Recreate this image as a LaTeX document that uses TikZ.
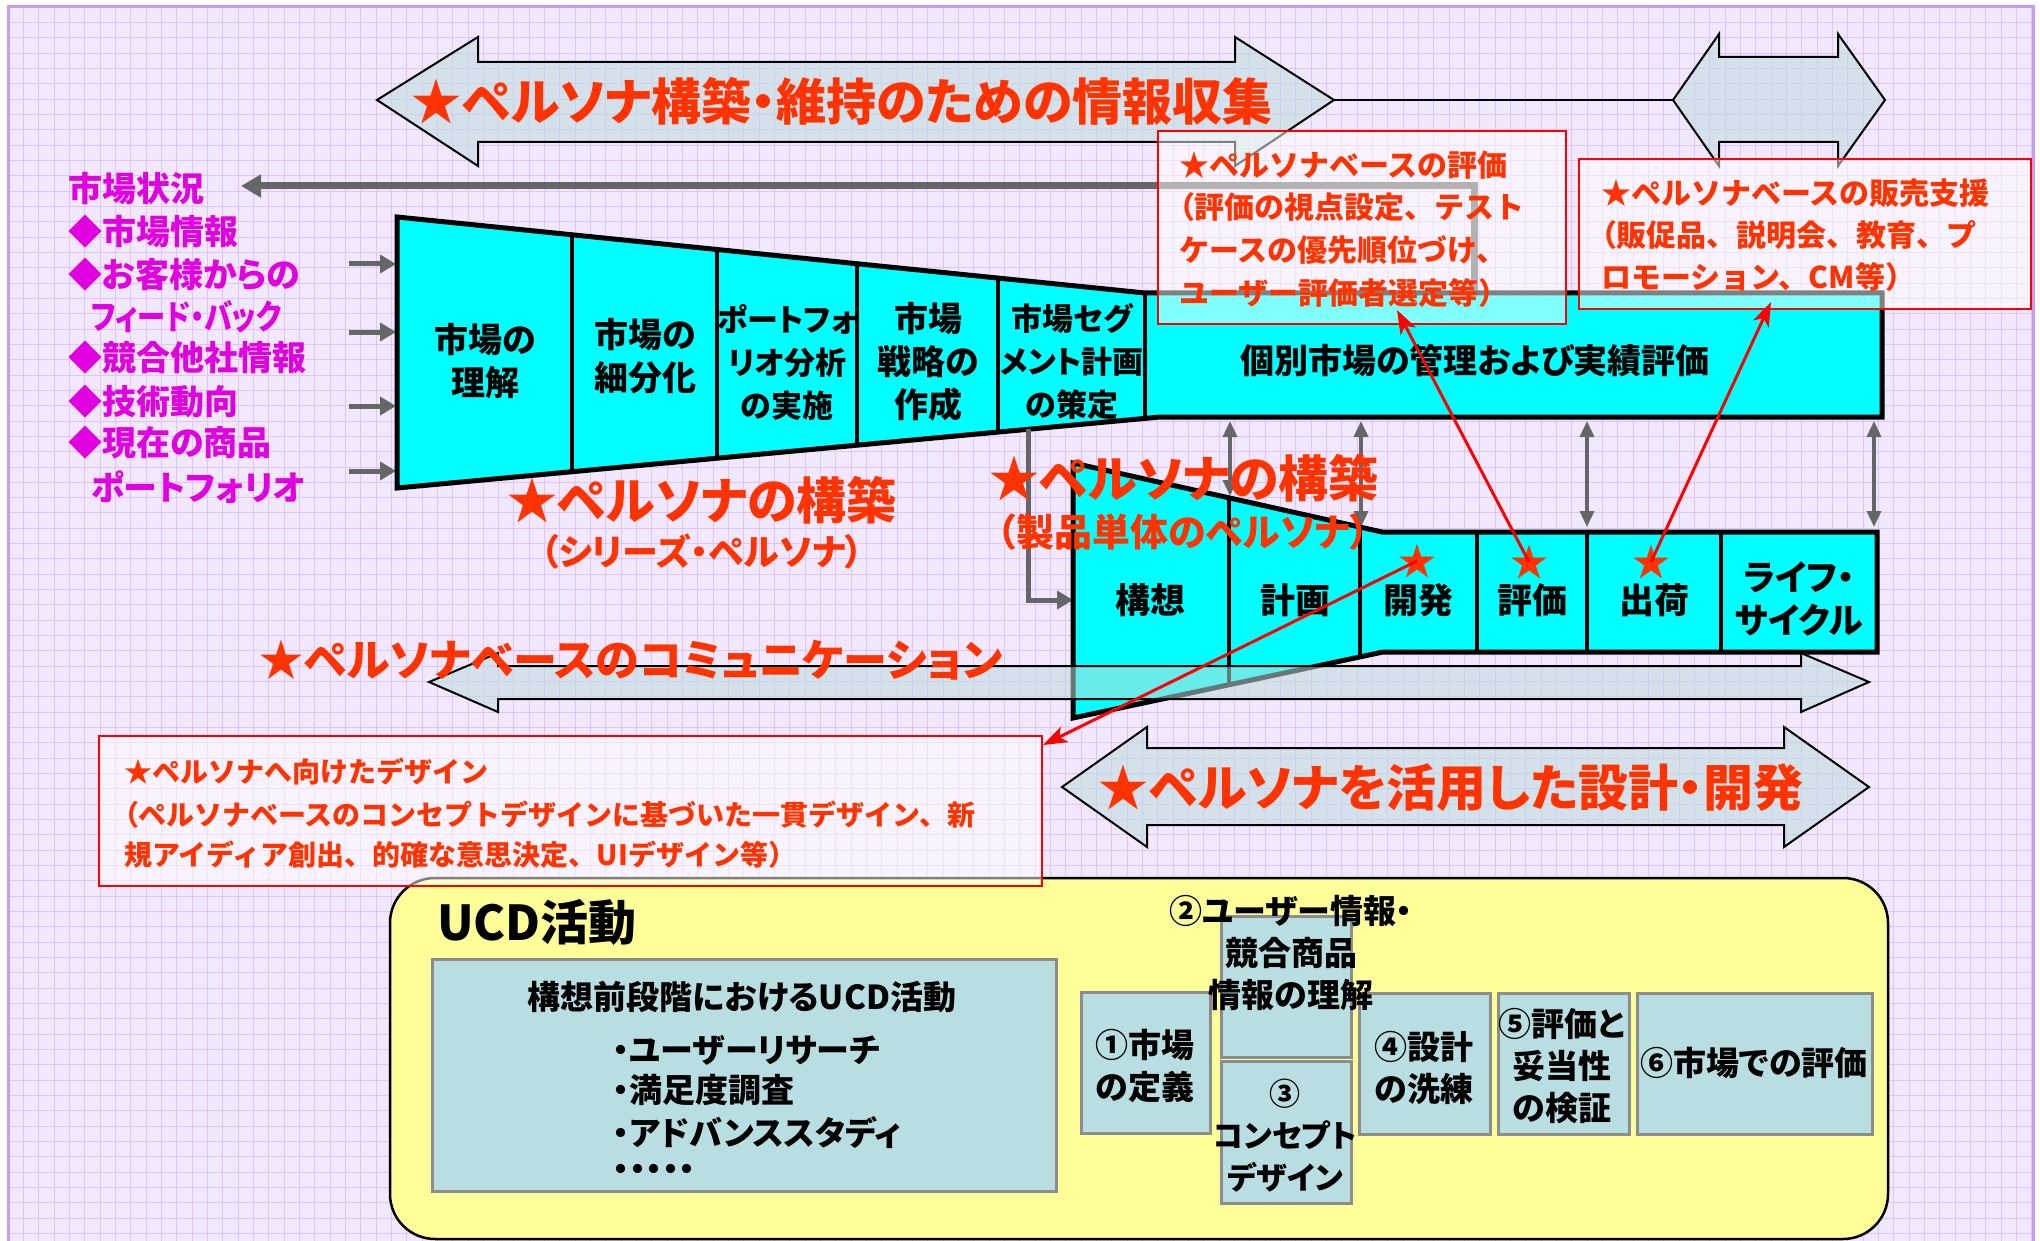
\documentclass[tikz,border=0pt]{standalone}
\usepackage{fontspec}
\usepackage{graphicx}
\setmainfont{Noto Sans CJK JP}
\newfontfamily\pjp{Noto Sans CJK JP}[RawFeature=+palt]
\usetikzlibrary{arrows.meta}
\definecolor{bg}{HTML}{F2E8FD}
\definecolor{gridc}{HTML}{DDC6F6}
\definecolor{framec}{HTML}{C49CF7}
\definecolor{ttl}{HTML}{FF3300}
\definecolor{mag}{HTML}{E000E0}
\definecolor{cyanf}{HTML}{00FFFF}
\definecolor{arrf}{HTML}{BCDCDC}
\definecolor{gr}{HTML}{666666}
\definecolor{ucdy}{HTML}{FFFF99}
\definecolor{boxb}{HTML}{B8DEE1}
\definecolor{boxg}{HTML}{8C8C8C}
\newcommand{\pf}[2]{\pjp\fontsize{#1pt}{#2pt}\selectfont\bfseries}
\newcommand{\mf}[2]{\fontsize{#1pt}{#2pt}\selectfont\bfseries}
\newcommand{\lp}{{\pjp （}}
\tikzset{
  ttltxt/.style={text=ttl, inner sep=0pt},
  celltxt/.style={align=center, font=\pf{34}{43}, inner sep=0pt},
  magtxt/.style={text=mag, font=\pf{34}{40}, anchor=west, inner sep=0pt},
  redbox/.style={draw=red, line width=2pt, fill=white, fill opacity=0.5, anchor=north west, inner sep=0pt},
  boxtxt/.style={text=ttl, anchor=west, font=\mf{30}{36}, inner sep=0pt},
  bigarrow/.style={draw=black, line width=2pt, fill=arrf, fill opacity=0.55, line join=miter},
  funnel/.style={draw=black, line width=5pt, fill=cyanf, line join=miter},
  divider/.style={draw=black, line width=3.5pt},
  grayarr/.style={draw=gr, line width=5pt, -{Triangle[length=16pt,width=18pt]}},
  grayd/.style={draw=gr, line width=3.5pt, {Triangle[length=16pt,width=14pt]}-{Triangle[length=16pt,width=14pt]}},
  redarr/.style={draw=red, line width=3pt, -{Stealth[length=24pt,width=17pt,inset=6pt]}},
  stark/.style={text=ttl, font=\mf{38}{40}, inner sep=0pt},
  ucdbox/.style={draw=boxg, line width=3pt, fill=boxb, anchor=north west, inner sep=0pt},
  ucdtxt/.style={align=center, font=\pf{33}{42}, inner sep=0pt},
}
\begin{document}
\begin{tikzpicture}[x=1pt,y=-1pt]
\useasboundingbox (0,0) rectangle (2040,1241);
\clip (0,0) rectangle (2040,1241);
% background
\fill[white] (0,0) rectangle (2040,1241);
\fill[bg] (8,7) rectangle (2033,1250);
\foreach \i in {0,...,132}{\draw[gridc, line width=0.8pt] ({8+15.33*\i},7) -- ({8+15.33*\i},1250);}
\foreach \j in {0,...,81}{\draw[gridc, line width=0.8pt] (8,{7+15.33*\j}) -- (2033,{7+15.33*\j});}
\draw[framec, line width=3pt] (8,7) rectangle (2033,1270);

% top arrows
\path[bigarrow] (377,100) -- (478,37) -- (478,62) -- (1235,62) -- (1235,37) -- (1334,100) -- (1235,166) -- (1235,142) -- (478,142) -- (478,166) -- cycle;
\path[bigarrow] (1673,100) -- (1719,34) -- (1719,57) -- (1838,57) -- (1838,34) -- (1885,100) -- (1838,166) -- (1838,142) -- (1719,142) -- (1719,166) -- cycle;
\coordinate (topTipR) at (1334,100);
\coordinate (smTipL) at (1673,100);
\draw[line width=2pt] (topTipR) -- (smTipL);
\node[ttltxt, font=\pf{50}{60}] (tTop) at (842,101) {★ペルソナ構築・維持のための情報収集};

% market status arrow
\coordinate (indivTop) at (1474,293);
\coordinate (mktEnd) at (241,186);
\draw[gr, line width=7pt, -{Triangle[length=20pt,width=22pt]}] (indivTop) |- (mktEnd);

% magenta list
\node[magtxt] (m1) at (68,189) {市場状況};
\node[magtxt] (m2) at (68,232) {◆市場情報};
\node[magtxt] (m3) at (68,275) {◆お客様からの};
\node[magtxt] (m4) at (91,317) {\scalebox{0.83}[1]{フィード・バック}};
\node[magtxt] (m5) at (68,358) {◆競合他社情報};
\node[magtxt] (m6) at (68,402) {◆技術動向};
\node[magtxt] (m7) at (68,443) {◆現在の商品};
\node[magtxt] (m8) at (91,487) {ポートフォリオ};

% small gray input arrows
\foreach \y [count=\n] in {264,332,406,471}{
  \coordinate (ia\n) at (349,\y);
  \coordinate (ib\n) at (396,\y);
  \draw[grayarr] (ia\n) -- (ib\n);
}

% funnel 1
\path[funnel] (397,217) -- (1145,293) -- (1882,293) -- (1882,417) -- (1160,417) -- (397,488) -- cycle;
\draw[divider] (572,235) -- (572,472);
\draw[divider] (717,249) -- (717,458);
\draw[divider] (857,264) -- (857,445);
\draw[divider] (998,278) -- (998,432);
\draw[divider] (1145,293) -- (1145,418);
\node[celltxt] (c1) at (485,361) {市場の\\理解};
\node[celltxt] (c2) at (645,356) {市場の\\細分化};
\node[celltxt, font=\pf{31}{43}] (c3) at (787,362) {ポートフォ\\リオ分析\\の実施};
\node[celltxt] (c4) at (928,362) {市場\\戦略の\\作成};
\node[celltxt, font=\pf{31}{43}] (c5) at (1072,361) {市場セグ\\メント計画\\の策定};
\node[celltxt] (c6) at (1475,360) {個別市場の管理および実績評価};

% connectors between funnels
\coordinate (f1b) at (1028,429);
\coordinate (f2l) at (1073,600);
\draw[grayarr] (f1b) |- (f2l);
\foreach \x/\yb [count=\n] in {1230/496,1361/527,1587/527,1874/527}{
  \coordinate (da\n) at (\x,421);
  \coordinate (db\n) at (\x,\yb);
  \draw[grayd] (da\n) -- (db\n);
}

% funnel 2
\path[funnel] (1073,463) -- (1382,532) -- (1877,532) -- (1877,652) -- (1383,652) -- (1073,718) -- cycle;
\draw[divider] (1229,498) -- (1229,685);
\draw[divider] (1360,527) -- (1360,657);
\draw[divider] (1477,532) -- (1477,652);
\draw[divider] (1587,532) -- (1587,652);
\draw[divider] (1721,532) -- (1721,652);
\node[celltxt, font=\pf{35}{43}] (d1) at (1150,600) {構想};
\node[celltxt, font=\pf{35}{43}] (d2) at (1295,600) {計画};
\node[celltxt, font=\pf{35}{43}] (d3) at (1418,600) {開発};
\node[celltxt, font=\pf{35}{43}] (d4) at (1532,600) {評価};
\node[celltxt, font=\pf{35}{43}] (d5) at (1654,600) {出荷};
\node[celltxt, font=\pf{35}{43}] (d6) at (1799,599) {ライフ・\\サイクル};
\node[stark] (stDev) at (1417,561) {★};
\node[stark] (stEval) at (1529,562) {★};
\node[stark] (stShip) at (1651,562) {★};

% titles
\node[ttltxt, font=\pf{50}{60}] (tB1) at (702,500) {★ペルソナの構築};
\node[ttltxt, font=\pf{36}{40}] (tB1s) at (702,552) {（シリーズ・ペルソナ）};
\node[ttltxt, font=\pf{50}{60}] (tB2) at (1184,478) {★ペルソナの構築};
\node[ttltxt, font=\pf{38}{40}] (tB2s) at (1183,532) {（製品単体のペルソナ）};

% communication arrow
\path[bigarrow] (429,682) -- (498,653) -- (498,666) -- (1801,666) -- (1801,653) -- (1869,682) -- (1801,712) -- (1801,699) -- (498,699) -- (498,712) -- cycle;
\node[ttltxt, font=\pf{44}{52}] (tComm) at (631,660) {★ペルソナベースのコミュニケーション};

% design/dev arrow
\path[bigarrow] (1062,787) -- (1147,727) -- (1147,748) -- (1784,748) -- (1784,727) -- (1869,787) -- (1784,847) -- (1784,825) -- (1147,825) -- (1147,847) -- cycle;
\node[ttltxt, font=\pf{50}{60}] (tDevA) at (1451,788) {★ペルソナを活用した設計・開発};

% UCD box
\draw[fill=ucdy, line width=2.5pt, rounded corners=45pt] (390,878) rectangle (1888,1239);
\node[inner sep=0pt, font=\pf{48}{52}] (ucdT) at (537,922) {UCD活動};
\node[ucdbox, minimum width=624pt, minimum height=232pt] (preBox) at (431,958) {};
\node[ucdtxt] (preT) at (742,997) {構想前段階におけるUCD活動};
\node[ucdtxt, anchor=west] (pre1) at (613,1050) {・ユーザーリサーチ};
\node[ucdtxt, anchor=west] (pre2) at (613,1090) {・満足度調査};
\node[ucdtxt, anchor=west] (pre3) at (613,1133) {・アドバンススタディ};
\node[ucdtxt, anchor=west] (pre4) at (613,1173) {・・・・・};
\node[ucdbox, minimum width=129pt, minimum height=141pt] (u1) at (1080,991) {};
\node[ucdbox, minimum width=130pt, minimum height=141pt] (u2) at (1220,915) {};
\node[ucdbox, minimum width=130pt, minimum height=142pt] (u3) at (1220,1060) {};
\node[ucdbox, minimum width=131pt, minimum height=141pt] (u4) at (1358,992) {};
\node[ucdbox, minimum width=131pt, minimum height=141pt] (u5) at (1497,992) {};
\node[ucdbox, minimum width=235pt, minimum height=141pt] (u6) at (1636,992) {};
\node[ucdtxt] (u1t) at (1145,1066) {①市場\\の定義};
\node[ucdtxt] (u2t) at (1291,953) {②ユーザー情報・\\競合商品\\情報の理解};
\node[ucdtxt, font=\pf{31}{42}] (u3t) at (1285,1136) {③\\コンセプト\\デザイン};
\node[ucdtxt] (u4t) at (1424,1068) {④設計\\の洗練};
\node[ucdtxt] (u5t) at (1562,1066) {⑤評価と\\妥当性\\の検証};
\node[ucdtxt] (u6t) at (1754,1063) {⑥市場での評価};

% red boxes
\node[redbox, minimum width=943pt, minimum height=150pt] (boxC) at (98,735) {};
\node[boxtxt, font=\mf{28}{34}] (bc1) at (124,772) {★ペルソナへ向けたデザイン};
\node[boxtxt, font=\mf{28}{34}] (bc2) at (124,815) {\lp ペルソナベースのコンセプトデザインに基づいた一貫デザイン、新};
\node[boxtxt, font=\mf{28}{34}] (bc3) at (124,855) {規アイディア創出、的確な意思決定、UIデザイン等）};
\node[redbox, minimum width=408pt, minimum height=193pt] (boxA) at (1157,130) {};
\node[boxtxt] (ba1) at (1179,165) {★ペルソナベースの評価};
\node[boxtxt] (ba2) at (1179,207) {\lp 評価の視点設定、テスト};
\node[boxtxt] (ba3) at (1179,250) {ケースの優先順位づけ、};
\node[boxtxt] (ba4) at (1179,293) {ユーザー評価者選定等）};
\node[redbox, minimum width=452pt, minimum height=150pt] (boxB) at (1578,158) {};
\node[boxtxt] (bb1) at (1601,193) {★ペルソナベースの販売支援};
\node[boxtxt] (bb2) at (1601,235) {\lp 販促品、説明会、教育、プ};
\node[boxtxt] (bb3) at (1601,277) {ロモーション、CM等）};

% red arrows
\coordinate (aTip) at (1397,310);
\coordinate (bTip) at (1771,302);
\coordinate (cTip) at (1043,745);
\draw[redarr] (stEval.center) -- (aTip);
\draw[redarr] (stShip.center) -- (bTip);
\draw[redarr] (stDev.center) -- (cTip);
\end{tikzpicture}
\end{document}
